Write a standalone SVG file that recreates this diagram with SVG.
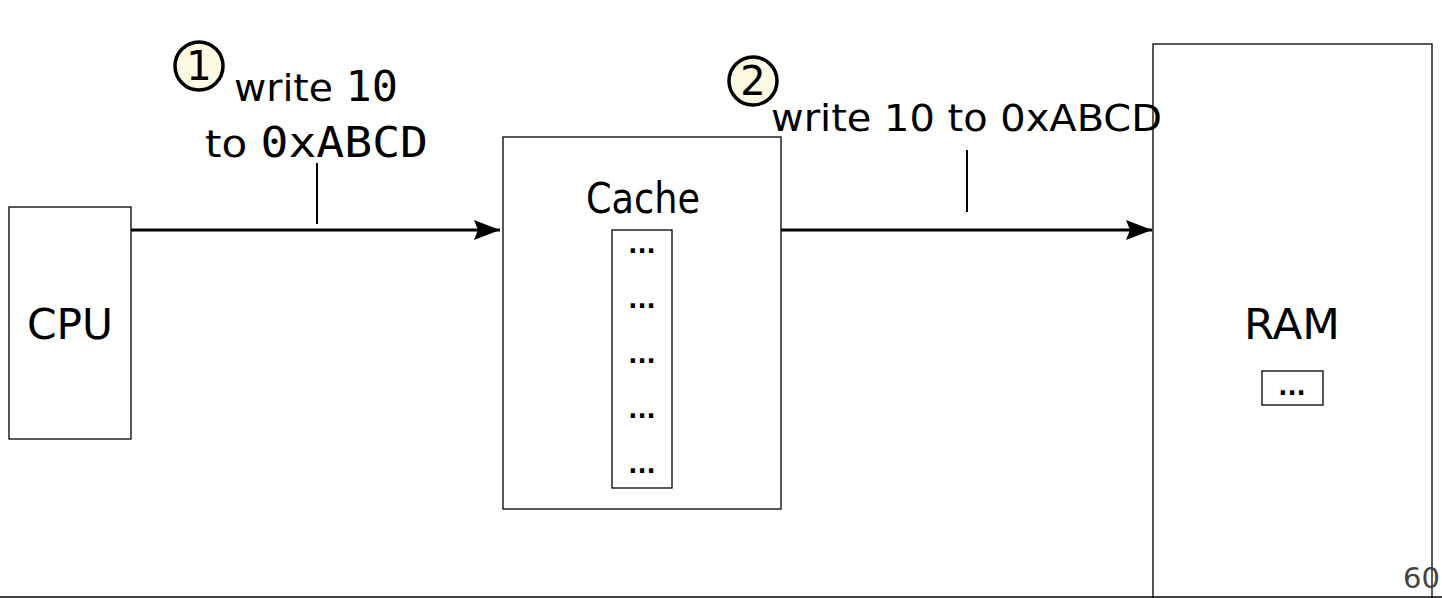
<svg xmlns="http://www.w3.org/2000/svg" width="1442" height="598" viewBox="0 0 1442 598">
<style>
.box{fill:#fff;stroke:#000;stroke-width:1.3}
.lbl{font-family:"DejaVu Sans",sans-serif;fill:#000}
.mono{font-family:"DejaVu Sans Mono",monospace}
.dots{font-family:"DejaVu Sans",sans-serif;font-weight:bold;font-size:24px;text-anchor:middle}
.num{fill:#fdf9e3;stroke:#000;stroke-width:3.5}
.conn{stroke:#000;stroke-width:3;fill:none}
.tick{stroke:#000;stroke-width:2}
</style>
<defs>
<marker id="ah2" viewBox="0 0 26 20" refX="26" refY="10" markerWidth="26" markerHeight="20" markerUnits="userSpaceOnUse" orient="auto">
<path d="M0,0 L26,10 L0,20 L4,10 Z" fill="#000"/>
</marker>
</defs>
<rect width="1442" height="598" fill="#fff"/>
<g id="cpu">
<rect class="box" x="9" y="207" width="122" height="232"/>
<text class="lbl" x="27" y="339" font-size="42" textLength="86" lengthAdjust="spacingAndGlyphs">CPU</text>
</g>
<g id="cache">
<rect class="box" x="503" y="137" width="278" height="372"/>
<text class="lbl" x="586" y="213" font-size="42" textLength="114" lengthAdjust="spacingAndGlyphs">Cache</text>
<rect class="box" x="612" y="230" width="60" height="258"/>
<text class="dots" x="642" y="253">...</text>
<text class="dots" x="642" y="308">...</text>
<text class="dots" x="642" y="363">...</text>
<text class="dots" x="642" y="418">...</text>
<text class="dots" x="642" y="473">...</text>
</g>
<g id="ram">
<rect class="box" x="1153" y="44" width="279" height="560"/>
<text class="lbl" x="1244" y="339" font-size="42" textLength="96" lengthAdjust="spacingAndGlyphs">RAM</text>
<rect class="box" x="1262" y="371" width="61" height="34"/>
<text class="dots" x="1292" y="395">...</text>
</g>
<g id="connectors">
<line class="conn" x1="131" y1="230" x2="500" y2="230" marker-end="url(#ah2)"/>
<line class="conn" x1="781" y1="230" x2="1152" y2="230" marker-end="url(#ah2)"/>
<line class="tick" x1="317" y1="163" x2="317" y2="224"/>
<line class="tick" x1="967" y1="150" x2="967" y2="212"/>
</g>
<g id="label1">
<circle class="num" cx="199" cy="66" r="24"/>
<text class="lbl" x="199" y="80" font-size="40" text-anchor="middle">1</text>
<text class="lbl" x="234" y="101" font-size="38" textLength="164" lengthAdjust="spacingAndGlyphs"><tspan>write </tspan><tspan class="mono" font-size="42">10</tspan></text>
<text class="lbl" x="205" y="157" font-size="38" textLength="223" lengthAdjust="spacingAndGlyphs"><tspan>to </tspan><tspan class="mono" font-size="42">0xABCD</tspan></text>
</g>
<g id="label2">
<circle class="num" cx="753" cy="81" r="24"/>
<text class="lbl" x="753" y="95" font-size="40" text-anchor="middle">2</text>
<text class="lbl" x="771" y="131" font-size="38" textLength="391" lengthAdjust="spacingAndGlyphs">write 10 to 0xABCD</text>
</g>
<line x1="0" y1="597" x2="1442" y2="597" stroke="#000" stroke-width="1.5"/>
<text x="1440" y="588" font-family="DejaVu Sans,sans-serif" font-size="29" fill="#444" text-anchor="end">60</text>
</svg>
